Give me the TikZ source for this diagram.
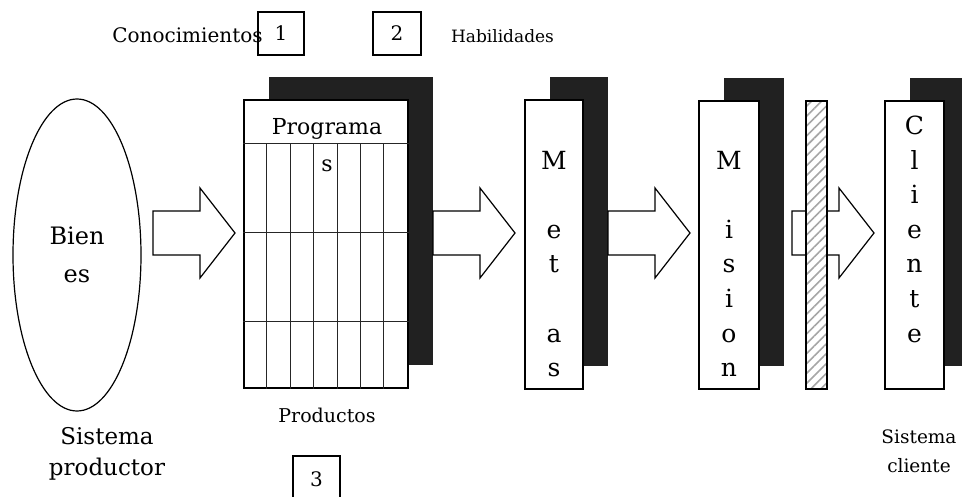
\documentclass[tikz,border=0pt]{standalone}
\usepackage{fontspec}
\setmainfont{DejaVu Serif}
\usetikzlibrary{shapes.geometric,shadows,patterns.meta,calc}

\tikzset{
	panel/.style={draw, fill=white, line width=1.2pt, inner sep=0pt,
		general shadow={fill=black!87, shadow xshift=25pt, shadow yshift=23pt}},
	numbox/.style={draw, line width=1.2pt, inner sep=0pt, minimum height=43pt,
		font=\fontsize{20}{24}\selectfont},
	txt/.style={inner sep=0pt},
	letter/.style={anchor=base, inner sep=0pt, font=\fontsize{25}{30}\selectfont},
	grid/.style={line width=1pt, black!85},
	bigarrow/.style={draw, fill=white, line width=1.2pt, line join=miter},
}
\newcommand{\blockarrow}[2]{%
	\draw[bigarrow] ($(#1)+(0,-22)$) -- ($(#2)+(-35,-22)$) -- ($(#2)+(-35,-45)$) -- (#2)
		-- ($(#2)+(-35,45)$) -- ($(#2)+(-35,22)$) -- ($(#1)+(0,22)$) -- cycle;}

\begin{document}
\begin{tikzpicture}[x=1pt,y=-1pt]
			\useasboundingbox[fill=white] (0,0) rectangle (962,497);

			\node[draw, ellipse, line width=1.2pt, inner sep=0pt, minimum width=128pt, minimum height=312pt,
				align=center, font=\fontsize{24}{38}\selectfont] (bienes) at (77,255) {Bien\\es};
			\node[txt, align=center, font=\fontsize{23}{31}\selectfont] (prod) at (107,454) {Sistema\\productor};

			\node[txt, anchor=base, font=\fontsize{20}{24}\selectfont] (conoc) at (187.5,43) {Conocimientos};
			\node[numbox, minimum width=46pt] (n1) at (281,33.5) {1};
			\node[numbox, minimum width=48pt] (n2) at (397,33.5) {2};
			\node[txt, anchor=base, font=\fontsize{17}{20}\selectfont] (habil) at (502.5,43) {Habilidades};

			\node[panel, minimum width=164pt, minimum height=288pt] (prog) at (326,244) {};
			\foreach \y in {44,133,222}
				\draw[grid] ($(prog.north west)+(0,\y)$) -- ($(prog.north east)+(0,\y)$);
			\foreach \k in {1,...,6}
				\draw[grid] ($(prog.north west)+({164/7*\k},44)$) -- ($(prog.south west)+({164/7*\k},0)$);
			\node[txt, anchor=base, font=\fontsize{22}{26}\selectfont] (progt) at (327,135) {Programa};
			\node[txt, anchor=base, font=\fontsize{22}{26}\selectfont] (progs) at (327,172) {s};
			\node[txt, anchor=base, font=\fontsize{19}{23}\selectfont] (productos) at (327,422) {Productos};
			\node[numbox, minimum width=47pt, minimum height=46pt] (n3) at (316.5,479) {3};

			\node[panel, minimum width=58pt, minimum height=289pt] (metas) at (554,244.5) {};
			\foreach \ltr/\k in {M/1,e/3,t/4,a/6,s/7}
				\node[letter] (metas-\k) at (554,{135+34.5*\k}) {\ltr};

			\node[panel, minimum width=60pt, minimum height=288pt] (mision) at (729,245) {};
			\foreach \ltr/\k in {M/1,i/3,s/4,i/5,o/6,n/7}
				\node[letter] (mision-\k) at (729,{135+34.5*\k}) {\ltr};

			\node[panel, minimum width=59pt, minimum height=288pt] (cliente) at (914.5,245) {};
			\foreach \ltr/\k in {C/0,l/1,i/2,e/3,n/4,t/5,e/6}
				\node[letter] (cliente-\k) at (914.5,{135+34.5*\k}) {\ltr};
			\node[txt, align=center, font=\fontsize{18.5}{29}\selectfont] (scliente) at (919,451) {Sistema\\cliente};

			\coordinate (s0) at (153,233);
			\coordinate (t0) at (235,233);
			\coordinate (s1) at (433,233);
			\coordinate (t1) at (515,233);
			\coordinate (s2) at (608,233);
			\coordinate (t2) at (690,233);
			\coordinate (s3) at (792,233);
			\coordinate (t3) at (874,233);
			\blockarrow{s0}{t0}
			\blockarrow{s1}{t1}
			\blockarrow{s2}{t2}
			\blockarrow{s3}{t3}

			\node[draw, line width=1.2pt, inner sep=0pt, minimum width=21pt, minimum height=288pt,
				preaction={fill=white}, pattern={Lines[angle=45,distance=7pt,line width=1.6pt]},
				pattern color=black!35] (bar) at (816.5,245) {};
\end{tikzpicture}
\end{document}
